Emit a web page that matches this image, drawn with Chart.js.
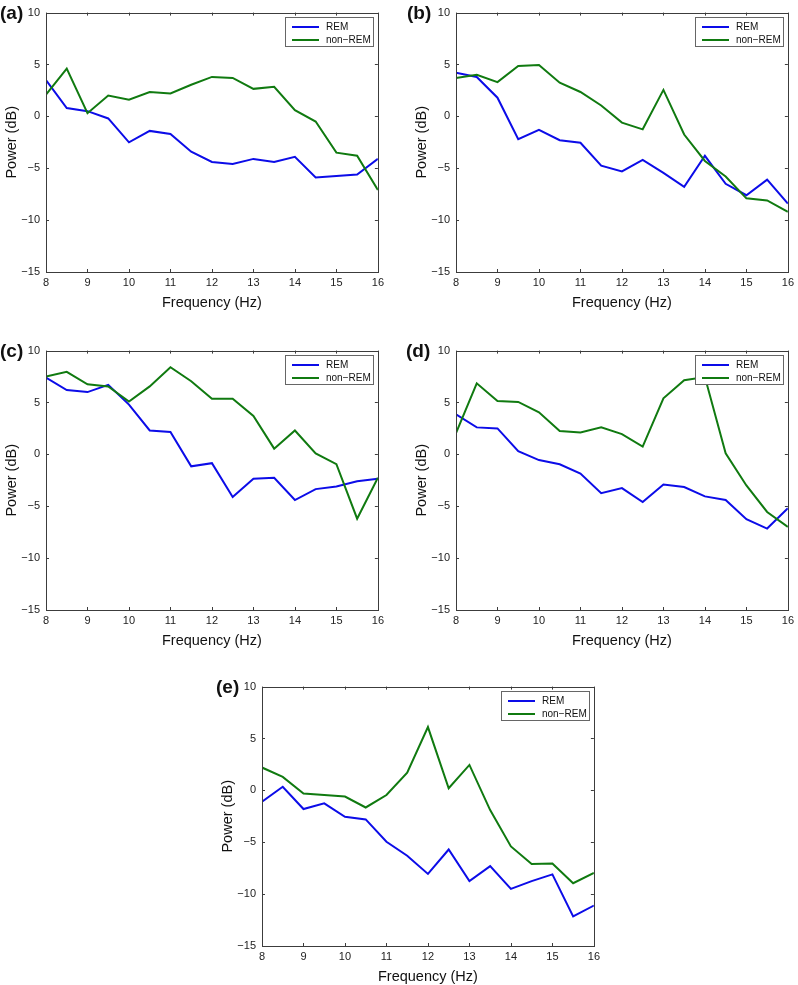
<!DOCTYPE html>
<html>
<head>
<meta charset="utf-8">
<script src="https://cdn.jsdelivr.net/npm/chart.js@4.4.0/dist/chart.umd.min.js"></script>
<style>
  html, body { margin: 0; padding: 0; background: #fff; overflow: hidden; }
  body { width: 798px; height: 985px; position: relative; font-family: "Liberation Sans", Arial, sans-serif; }
  .panel { position: absolute; width: 388px; height: 312px; }
  .tag { position: absolute; font-weight: bold; font-size: 19px; color: #111; }
</style>
</head>
<body>
<div class="panel" style="left:0px;top:0px"><canvas id="chart-a"></canvas></div>
<div class="panel" style="left:410px;top:0px"><canvas id="chart-b"></canvas></div>
<div class="panel" style="left:0px;top:338px"><canvas id="chart-c"></canvas></div>
<div class="panel" style="left:410px;top:338px"><canvas id="chart-d"></canvas></div>
<div class="panel" style="left:216px;top:674px"><canvas id="chart-e"></canvas></div>

<div class="tag" style="left:0px;top:2px">(a)</div>
<div class="tag" style="left:407px;top:2px">(b)</div>
<div class="tag" style="left:0px;top:340px">(c)</div>
<div class="tag" style="left:406px;top:340px">(d)</div>
<div class="tag" style="left:216px;top:676px">(e)</div>

<script>
// frequency bins (Hz)
const freqHz = [8, 8.5, 9, 9.5, 10, 10.5, 11, 11.5, 12, 12.5, 13, 13.5, 14, 14.5, 15, 15.5, 16];

// power (dB)
const remA    = [3.5, 0.8, 0.5, -0.2, -2.5, -1.4, -1.7, -3.4, -4.4, -4.6, -4.1, -4.4, -3.9, -5.9, -5.75, -5.6, -4.1];
const nonRemA = [2.1, 4.6, 0.3, 2.0, 1.6, 2.35, 2.2, 3.05, 3.8, 3.7, 2.65, 2.85, 0.6, -0.5, -3.5, -3.8, -7.1];

const remB    = [4.2, 3.8, 1.8, -2.2, -1.3, -2.3, -2.55, -4.75, -5.3, -4.2, -5.45, -6.8, -3.8, -6.5, -7.6, -6.1, -8.4];
const nonRemB = [3.7, 4.0, 3.3, 4.85, 4.95, 3.25, 2.35, 1.05, -0.6, -1.25, 2.55, -1.75, -4.3, -5.8, -7.9, -8.1, -9.2];

const remC    = [7.4, 6.2, 6.0, 6.7, 4.8, 2.3, 2.15, -1.15, -0.85, -4.1, -2.35, -2.25, -4.4, -3.35, -3.1, -2.6, -2.35];
const nonRemC = [7.5, 7.95, 6.75, 6.55, 5.1, 6.55, 8.4, 7.05, 5.35, 5.35, 3.7, 0.55, 2.3, 0.1, -0.95, -6.2, -2.25];

const remD    = [3.85, 2.6, 2.5, 0.3, -0.55, -0.95, -1.85, -3.75, -3.25, -4.6, -2.9, -3.15, -4.05, -4.4, -6.25, -7.15, -5.2];
const nonRemD = [2.05, 6.85, 5.15, 5.05, 4.05, 2.25, 2.1, 2.6, 1.95, 0.75, 5.4, 7.15, 7.45, 0.1, -3.0, -5.55, -7.0];

const remE    = [-1.1, 0.35, -1.8, -1.25, -2.55, -2.8, -4.95, -6.3, -8.05, -5.7, -8.75, -7.3, -9.5, -8.75, -8.1, -12.15, -11.1];
const nonRemE = [2.2, 1.3, -0.3, -0.45, -0.6, -1.65, -0.45, 1.7, 6.1, 0.2, 2.45, -1.9, -5.4, -7.1, -7.05, -8.95, -7.95];

const seriesNames = ['REM', 'non\u2212REM'];
const remColor = '#0c0ce8';
const nonRemColor = '#107a10';

Chart.defaults.font.family = '"Liberation Sans", Arial, sans-serif';

// matlab style box: frame, inward ticks on all sides, legend in the corner
const boxPlugin = {
  id: 'matlabBox',
  afterDatasetsDraw(chart) {
    const ctx = chart.ctx;
    const a = chart.chartArea;
    const xs = chart.scales.x, ys = chart.scales.y;
    ctx.save();
    ctx.strokeStyle = '#3c3c3c';
    ctx.lineWidth = 1;
    ctx.beginPath();
    xs.ticks.forEach(function (t) {
      const px = Math.round(xs.getPixelForValue(t.value)) + 0.5;
      ctx.moveTo(px, a.top); ctx.lineTo(px, a.top + 3);
      ctx.moveTo(px, a.bottom); ctx.lineTo(px, a.bottom - 3);
    });
    ys.ticks.forEach(function (t) {
      const py = Math.round(ys.getPixelForValue(t.value)) + 0.5;
      ctx.moveTo(a.left, py); ctx.lineTo(a.left + 3, py);
      ctx.moveTo(a.right, py); ctx.lineTo(a.right - 3, py);
    });
    ctx.stroke();
    ctx.strokeRect(Math.round(a.left) + 0.5, Math.round(a.top) + 0.5, Math.round(a.width), Math.round(a.height));

    // legend
    const w = 88, h = 29;
    const bx = Math.round(a.right - 5 - w), by = Math.round(a.top + 4);
    ctx.fillStyle = '#fff';
    ctx.fillRect(bx, by, w, h);
    ctx.strokeStyle = '#666';
    ctx.strokeRect(bx + 0.5, by + 0.5, w, h);
    ctx.font = '10px "Liberation Sans", Arial, sans-serif';
    ctx.textBaseline = 'middle';
    chart.data.datasets.forEach(function (ds, i) {
      const ly = by + 10 + i * 13;
      ctx.strokeStyle = ds.borderColor;
      ctx.lineWidth = 2;
      ctx.beginPath();
      ctx.moveTo(bx + 7, ly);
      ctx.lineTo(bx + 34, ly);
      ctx.stroke();
      ctx.fillStyle = '#111';
      ctx.fillText(ds.label, bx + 41, ly + 0.5);
    });
    ctx.restore();
  }
};

function toPoints(values) {
  return freqHz.map(function (f, i) { return { x: f, y: values[i] }; });
}

function makePanel(id, rem, nonRem) {
  const ctx = document.getElementById(id);
  new Chart(ctx, {
    type: 'line',
    data: {
      datasets: [
        { label: seriesNames[0], data: toPoints(rem), borderColor: remColor, borderWidth: 2, pointRadius: 0, tension: 0, fill: false, order: 1 },
        { label: seriesNames[1], data: toPoints(nonRem), borderColor: nonRemColor, borderWidth: 2, pointRadius: 0, tension: 0, fill: false, order: 0 }
      ]
    },
    options: {
      responsive: true,
      maintainAspectRatio: false,
      animation: false,
      layout: { padding: { top: 10, right: 10, left: 0, bottom: 0 } },
      plugins: {
        legend: { display: false },
        tooltip: { enabled: false }
      },
      scales: {
        x: {
          type: 'linear',
          min: 8,
          max: 16,
          ticks: { stepSize: 1, padding: 4, color: '#222', font: { size: 11 } },
          grid: { display: false, drawTicks: false },
          border: { display: false },
          title: { display: true, text: 'Frequency (Hz)', color: '#111', font: { size: 14.5 }, padding: 0 },
          afterFit: function (scale) { scale.height = 40; }
        },
        y: {
          min: -15,
          max: 10,
          ticks: {
            stepSize: 5,
            padding: 6,
            color: '#222',
            font: { size: 11 },
            callback: function (v) { return String(v).replace('-', '\u2212'); }
          },
          grid: { display: false, drawTicks: false },
          border: { display: false },
          title: { display: true, text: 'Power (dB)', color: '#111', font: { size: 14.5 }, padding: { top: 3, bottom: 0 } },
          afterFit: function (scale) { scale.width = 46; }
        }
      }
    },
    plugins: [boxPlugin]
  });
}

makePanel('chart-a', remA, nonRemA);
makePanel('chart-b', remB, nonRemB);
makePanel('chart-c', remC, nonRemC);
makePanel('chart-d', remD, nonRemD);
makePanel('chart-e', remE, nonRemE);
</script>
</body>
</html>
